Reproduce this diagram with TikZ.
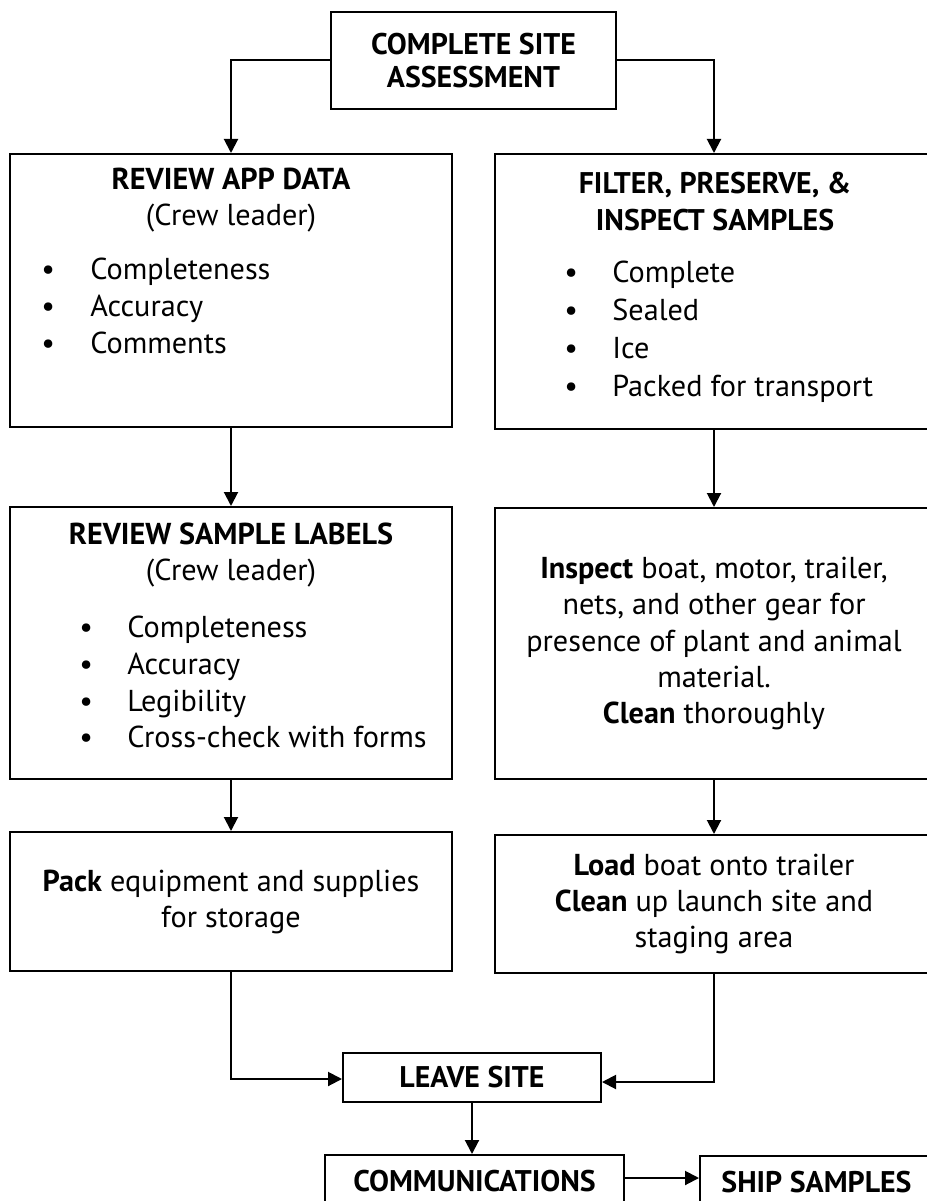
\documentclass[tikz,border=0pt]{standalone}
\usepackage{fontspec}
\setmainfont{PT Sans}
\usetikzlibrary{arrows.meta}

\begin{document}
\begin{tikzpicture}[x=0.2mm,y=-0.2mm,>={Triangle[length=2.8mm,width=2.8mm]}]
  \tikzset{
    box/.style={draw=black,line width=0.4mm,rectangle,inner sep=0pt,align=center,
      font=\fontsize{17.2}{20.5}\selectfont},
    head/.style={align=center,inner sep=0pt,font=\fontsize{17.2}{20.5}\selectfont},
    items/.style={align=left,inner sep=0pt,anchor=west,font=\fontsize{17.2}{21}\selectfont},
    link/.style={line width=0.4mm,->},
  }
  \useasboundingbox (0,0) rectangle (926,1201);

  % boxes
  \node[box,minimum width=57mm,minimum height=19.4mm,font=\fontsize{17}{19}\selectfont\bfseries]
    (start) at (473.5,60.5) {COMPLETE SITE\\ASSESSMENT};
  \node[box,minimum width=88.4mm,minimum height=54.6mm] (appdata) at (231,290.5) {};
  \node[box,minimum width=87.6mm,minimum height=55mm] (filter) at (714,291.5) {};
  \node[box,minimum width=88.4mm,minimum height=54.4mm] (labels) at (231,643) {};
  \node[box,minimum width=87.6mm,minimum height=54.2mm] (inspect) at (714,643.5)
    {\textbf{Inspect} boat, motor, trailer,\\nets, and other gear for\\presence of plant and animal\\material.\\\textbf{Clean} thoroughly};
  \node[box,minimum width=88.4mm,minimum height=27.8mm] (pack) at (231,901.5)
    {\textbf{Pack} equipment and supplies\\for storage};
  \node[box,minimum width=87.6mm,minimum height=27.6mm] (load) at (714,904)
    {\textbf{Load} boat onto trailer\\\textbf{Clean} up launch site and\\staging area};
  \node[box,minimum width=51.6mm,minimum height=9.8mm,font=\fontsize{17}{20.5}\selectfont\bfseries]
    (leave) at (472,1077.5) {LEAVE SITE};
  \node[box,minimum width=59.8mm,minimum height=10.4mm,font=\fontsize{17}{20.5}\selectfont\bfseries]
    (comm) at (474.5,1181) {COMMUNICATIONS};
  \node[box,minimum width=46.6mm,minimum height=10.4mm,font=\fontsize{17}{20.5}\selectfont\bfseries]
    (ship) at (816.5,1182) {SHIP SAMPLES};

  % box texts
  \node[head] (appdatahead) at (231,200.5) {\textbf{REVIEW APP DATA}\\(Crew leader)};
  \node[items] (appdatalist) at (41,306)
    {\makebox[9.8mm][l]{\textbullet}Completeness\\
     \makebox[9.8mm][l]{\textbullet}Accuracy\\
     \makebox[9.8mm][l]{\textbullet}Comments};
  \node[head,font=\fontsize{17}{21.5}\selectfont\bfseries] (filterhead) at (715,201.5)
    {FILTER, PRESERVE, \&\\INSPECT SAMPLES};
  \node[items,font=\fontsize{17.2}{21.6}\selectfont] (filterlist) at (564,331.5)
    {\makebox[9.6mm][l]{\textbullet}Complete\\
     \makebox[9.6mm][l]{\textbullet}Sealed\\
     \makebox[9.6mm][l]{\textbullet}Ice\\
     \makebox[9.6mm][l]{\textbullet}Packed for transport};
  \node[head] (labelshead) at (231,555) {\textbf{REVIEW SAMPLE LABELS}\\(Crew leader)};
  \node[items] (labelslist) at (79,682)
    {\makebox[9.6mm][l]{\textbullet}Completeness\\
     \makebox[9.6mm][l]{\textbullet}Accuracy\\
     \makebox[9.6mm][l]{\textbullet}Legibility\\
     \makebox[9.6mm][l]{\textbullet}Cross-check with forms};

  % connectors
  \draw[link] (start.west) -| (appdata.north);
  \draw[link] (start.east) -| (filter.north);
  \draw[link] (appdata) -- (labels);
  \draw[link] (filter) -- (inspect);
  \draw[link] (labels) -- (pack);
  \draw[link] (inspect) -- (load);
  \draw[link] (pack.south) |- ([yshift=-0.3mm]leave.west);
  \draw[link] (load.south) |- ([yshift=-0.9mm]leave.east);
  \draw[link] (leave.south) -- (leave.south |- comm.north);
  \draw[link] ([yshift=0.6mm]comm.east) -- ([yshift=0.6mm]comm.east -| ship.west);
\end{tikzpicture}
\end{document}
